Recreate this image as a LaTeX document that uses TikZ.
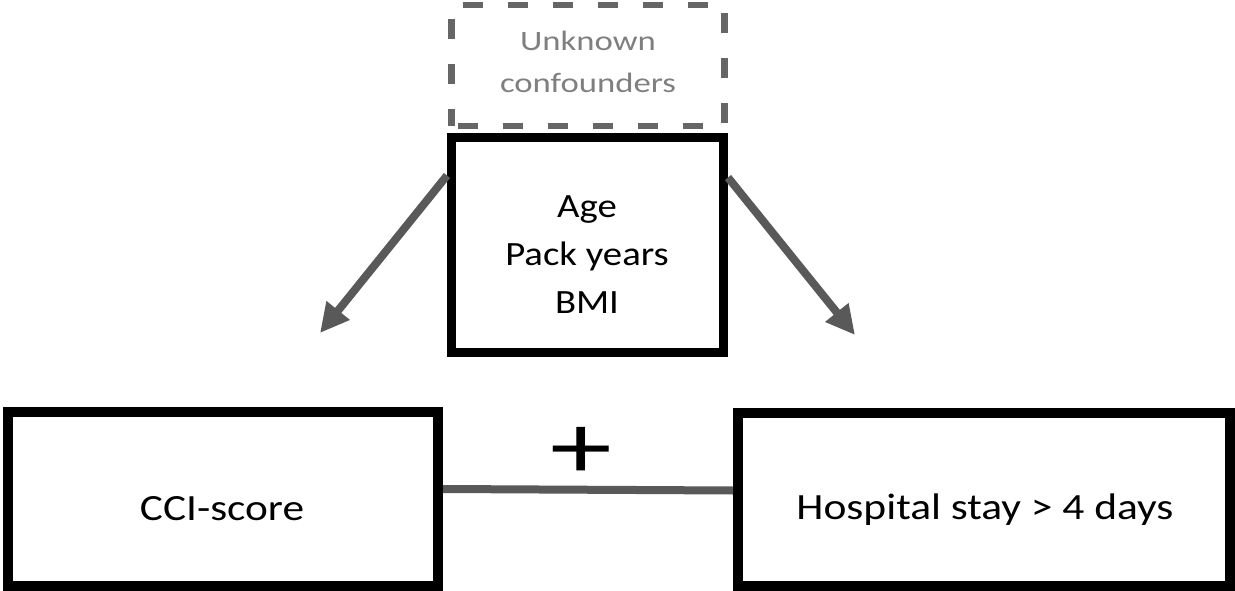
\documentclass[tikz,border=0pt]{standalone}
\usepackage{fontspec}
\usepackage{graphicx}
\setmainfont{Carlito}
\usetikzlibrary{arrows.meta}
\definecolor{conngray}{HTML}{595959}
\definecolor{dashgray}{HTML}{666666}
\definecolor{textgray}{HTML}{7F7F7F}
\newcommand{\hs}[2]{\scalebox{#1}[1]{#2}}
\begin{document}
\begin{tikzpicture}[x=1pt,y=-1pt,
  box/.style={draw=black,line width=#1,inner sep=0pt,fill=none},
  dbox/.style={draw=dashgray,line width=6.5pt,dash pattern=on 20pt off 25pt,dash phase=-6pt,inner sep=0pt},
  lbl/.style={inner sep=0pt,align=center,font=\fontsize{37}{44}\selectfont},
  arr/.style={draw=conngray,line width=8pt,-{Triangle[length=29pt,width=28pt]}},
  conn/.style={draw=conngray,line width=8pt}]
\useasboundingbox (0,0) rectangle (1235,591);
% boxes
\node[dbox,minimum width=273pt,minimum height=121pt] (unk) at (588,65.5) {};
\node[box=9pt,minimum width=272pt,minimum height=214pt] (age) at (587.5,245) {};
\node[box=10pt,minimum width=430pt,minimum height=174pt] (cci) at (223,499) {};
\node[box=10pt,minimum width=492pt,minimum height=173pt] (hosp) at (984,499.5) {};
% texts
\node[lbl,text=textgray,font=\fontsize{28}{42}\selectfont] (unkt) at (588,62) {\hs{1.24}{Unknown}\\\hs{1.24}{confounders}};
\node[lbl,font=\fontsize{34}{48}\selectfont] (aget) at (587,255) {\hs{1.14}{Age}\\\hs{1.14}{Pack years}\\\hs{1.14}{BMI}};
\node[lbl] (ccit) at (222,509) {\hs{1.17}{CCI-score}};
\node[lbl] (hospt) at (985,510) {\hs{1.175}{Hospital stay > 4 days}};
\node[inner sep=0pt,font=\fontsize{93}{93}\selectfont] (plus) at (581,453) {\hs{1.33}{+}};
% connectors
\coordinate (ltip) at (320,333);
\coordinate (rtip) at (855,335);
\draw[arr] ([yshift=-42pt]age.north west) -- (ltip);
\draw[arr] ([yshift=-44pt]age.north east) -- (rtip);
\draw[conn] ([yshift=10pt]cci.east) -- ([yshift=9pt]hosp.west);
\end{tikzpicture}
\end{document}
